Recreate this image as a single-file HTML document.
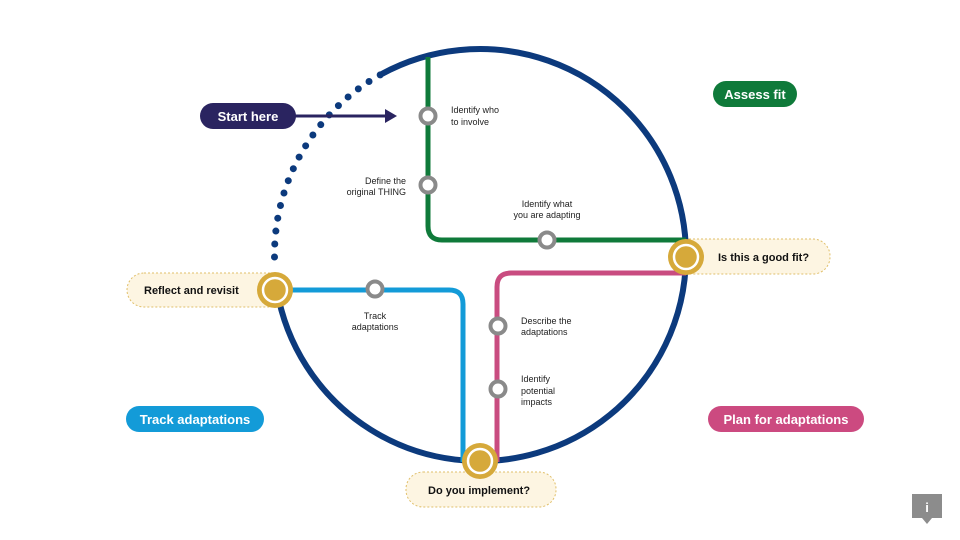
<!DOCTYPE html>
<html><head><meta charset="utf-8"><style>
body{margin:0;background:#fff;}
svg{display:block;}
text{font-family:"Liberation Sans",sans-serif;}
</style></head><body>
<svg width="960" height="540" viewBox="0 0 960 540" xmlns="http://www.w3.org/2000/svg">
<rect width="960" height="540" fill="#fff"/>
<rect x="127" y="273" width="160" height="34" rx="17" fill="#fdf5e2" stroke="#e0bf6a" stroke-width="1" stroke-dasharray="2 2"/>
<rect x="672" y="239" width="158" height="35" rx="17" fill="#fdf5e2" stroke="#e0bf6a" stroke-width="1" stroke-dasharray="2 2"/>
<rect x="406" y="472" width="150" height="35" rx="17" fill="#fdf5e2" stroke="#e0bf6a" stroke-width="1" stroke-dasharray="2 2"/>
<path d="M380.8,74.5 A206,206 0 1 1 276.9,289.7" fill="none" stroke="#0c3a7d" stroke-width="6"/>
<path d="M274.5,257 A206,206 0 0 1 380.8,74.5" fill="none" stroke="#0c3a7d" stroke-width="7" stroke-linecap="round" stroke-dasharray="0 13"/>
<path d="M428,57 V226 Q428,240 442,240 H686" fill="none" stroke="#0f7a3a" stroke-width="5"/>
<path d="M686,273 H511 Q497,273 497,287 V462" fill="none" stroke="#c94c80" stroke-width="5"/>
<path d="M275,290 H449 Q463,290 463,304 V462" fill="none" stroke="#139bd8" stroke-width="5"/>
<line x1="290" y1="116" x2="390" y2="116" stroke="#2a2460" stroke-width="3"/>
<polygon points="385,109 397,116 385,123" fill="#2a2460"/>
<rect x="200" y="103" width="96" height="26" rx="13" fill="#2a2460"/>
<text x="248" y="121" text-anchor="middle" font-size="13" font-weight="bold" fill="#fff">Start here</text>
<g fill="#fff" stroke="#8a8a8a" stroke-width="4">
<circle cx="428" cy="116" r="7.5"/><circle cx="428" cy="185" r="7.5"/><circle cx="547" cy="240" r="7.5"/>
<circle cx="375" cy="289" r="7.5"/><circle cx="498" cy="326" r="7.5"/><circle cx="498" cy="389" r="7.5"/>
</g>
<g>
<circle cx="686" cy="257" r="18" fill="#d6a93a"/><circle cx="686" cy="257" r="12" fill="none" stroke="#fff" stroke-width="2.5"/>
<circle cx="275" cy="290" r="18" fill="#d6a93a"/><circle cx="275" cy="290" r="12" fill="none" stroke="#fff" stroke-width="2.5"/>
<circle cx="480" cy="461" r="18" fill="#d6a93a"/><circle cx="480" cy="461" r="12" fill="none" stroke="#fff" stroke-width="2.5"/>
</g>
<g font-size="11" font-weight="bold" fill="#111">
<text x="144" y="294">Reflect and revisit</text>
<text x="718" y="261">Is this a good fit?</text>
<text x="428" y="494">Do you implement?</text>
</g>
<g font-size="9" fill="#222">
<text x="451" y="113">Identify who</text><text x="451" y="125">to involve</text>
<text x="406" y="184" text-anchor="end">Define the</text><text x="406" y="195" text-anchor="end">original THING</text>
<text x="547" y="207" text-anchor="middle">Identify what</text><text x="547" y="218" text-anchor="middle">you are adapting</text>
<text x="375" y="319" text-anchor="middle">Track</text><text x="375" y="330" text-anchor="middle">adaptations</text>
<text x="521" y="324">Describe the</text><text x="521" y="335">adaptations</text>
<text x="521" y="382">Identify</text><text x="521" y="394">potential</text><text x="521" y="405">impacts</text>
</g>
<rect x="713" y="81" width="84" height="26" rx="13" fill="#0f7a3a"/>
<text x="755" y="99" text-anchor="middle" font-size="13" font-weight="bold" fill="#fff">Assess fit</text>
<rect x="126" y="406" width="138" height="26" rx="13" fill="#139bd8"/>
<text x="195" y="424" text-anchor="middle" font-size="13" font-weight="bold" fill="#fff">Track adaptations</text>
<rect x="708" y="406" width="156" height="26" rx="13" fill="#cc4a80"/>
<text x="786" y="424" text-anchor="middle" font-size="13" font-weight="bold" fill="#fff">Plan for adaptations</text>
<rect x="912" y="494" width="30" height="24" fill="#8c8c8c"/>
<polygon points="922,518 932,518 927,524" fill="#8c8c8c"/>
<text x="927" y="512" text-anchor="middle" font-size="13" font-weight="bold" fill="#fff">i</text>
</svg>
</body></html>
